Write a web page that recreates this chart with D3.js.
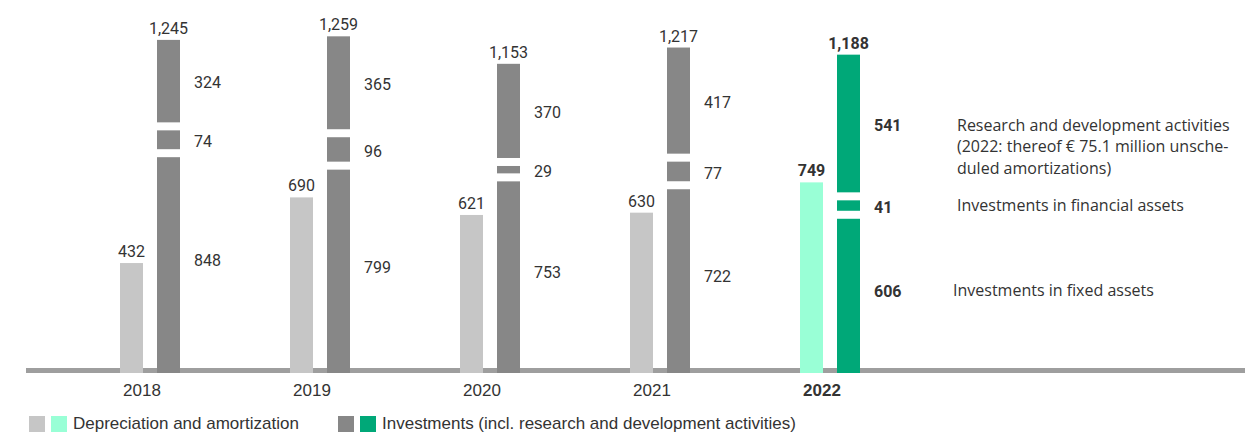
<!DOCTYPE html>
<html>
<head>
<meta charset="utf-8">
<script src="https://cdn.jsdelivr.net/npm/d3@7"></script>
<style>
  html, body { margin: 0; padding: 0; background: #fff; }
  svg { display: block; }
</style>
</head>
<body>
<svg id="chart" width="1258" height="438"></svg>
<script>
// Depreciation vs. investments by year, EUR million
const years = ["2018", "2019", "2020", "2021", "2022"];
const depreciation = [432, 690, 621, 630, 749];
const fixedAssets = [848, 799, 753, 722, 606];
const financialAssets = [74, 96, 29, 77, 41];
const researchDev = [324, 365, 370, 417, 541];
const investmentTotals = ["1,245", "1,259", "1,153", "1,217", "1,188"];
const highlightYear = "2022";
const segmentNotes = [
  ["Research and development activities", "(2022: thereof € 75.1 million unsche-", "duled amortizations)"],
  ["Investments in financial assets"],
  ["Investments in fixed assets"]
];
const legendItems = ["Depreciation and amortization", "Investments (incl. research and development activities)"];

const colors = {
  dep: "#c6c6c6", depHi: "#99ffd6",
  inv: "#878787", invHi: "#00a878",
  axis: "#9e9e9e", text: "#333333"
};

const svg = d3.select("#chart");
const baseY = 373;
const barW = 23;
const invOffset = 37;
const gap = 8;

const x = d3.scaleBand().domain(years).range([120, 120 + 170 * years.length]).paddingInner(0).paddingOuter(0);
const y = d3.scaleLinear().domain([0, 1300]).range([baseY, baseY - 1300 * 0.2545]);
const h = v => baseY - y(v);

const numFont = "Roboto, 'Liberation Sans', sans-serif";
const narrowFont = "'Liberation Sans Narrow', 'Liberation Sans', sans-serif";
const noteFont = "'Open Sans', 'Noto Sans', sans-serif";

// axis band
svg.append("rect").attr("x", 26).attr("y", 368).attr("width", 1219).attr("height", 5).attr("fill", colors.axis);

const rows = years.map((yr, i) => ({
  year: yr, hi: yr === highlightYear,
  dep: depreciation[i],
  segs: [fixedAssets[i], financialAssets[i], researchDev[i]],
  total: investmentTotals[i]
}));

const g = svg.selectAll("g.year").data(rows).join("g").attr("class", "year");

// depreciation bars
g.append("rect")
  .attr("x", d => x(d.year))
  .attr("y", d => y(d.dep))
  .attr("width", barW)
  .attr("height", d => h(d.dep))
  .attr("fill", d => d.hi ? colors.depHi : colors.dep);

g.append("text")
  .attr("x", d => x(d.year) + barW / 2)
  .attr("y", d => y(d.dep) - 6)
  .attr("text-anchor", "middle")
  .attr("font-family", numFont)
  .attr("font-size", 16)
  .attr("font-weight", d => d.hi ? 700 : 400)
  .attr("fill", colors.text)
  .text(d => d3.format(",")(d.dep));

// stacked investment segments separated by white gaps
g.each(function (d) {
  const sel = d3.select(this);
  let bottom = baseY;
  const xi = x(d.year) + invOffset;
  d.segs.forEach((v, k) => {
    const top = bottom - h(v);
    sel.append("rect")
      .attr("x", xi).attr("y", top)
      .attr("width", barW).attr("height", bottom - top)
      .attr("fill", d.hi ? colors.invHi : colors.inv);
    sel.append("text")
      .attr("x", xi + barW + 14)
      .attr("y", (top + bottom) / 2 + (k === 0 ? -3 : 3))
      .attr("dominant-baseline", "middle")
      .attr("font-family", numFont)
      .attr("font-size", 16)
      .attr("font-weight", d.hi ? 700 : 400)
      .attr("fill", colors.text)
      .text(v);
    d["segMid" + k] = (top + bottom) / 2;
    bottom = top - gap;
  });
  const topY = bottom + gap;
  sel.append("text")
    .attr("x", xi + barW / 2)
    .attr("y", topY - 6)
    .attr("text-anchor", "middle")
    .attr("font-family", numFont)
    .attr("font-size", 16)
    .attr("font-weight", d.hi ? 700 : 400)
    .attr("fill", colors.text)
    .text(d.total);
});

// year labels
g.append("text")
  .attr("x", d => x(d.year) + 22)
  .attr("y", 392)
  .attr("dominant-baseline", "middle")
  .attr("text-anchor", "middle")
  .attr("font-family", narrowFont)
  .attr("font-size", 17)
  .attr("font-weight", d => d.hi ? 700 : 400)
  .attr("fill", colors.text)
  .text(d => d.year);

// notes to the right of the highlighted year
const hiRow = rows.find(r => r.hi);
const noteX = [957, 957, 953];
const noteMid = [hiRow.segMid2 + 3, hiRow.segMid1 + 1, hiRow.segMid0 - 4];
[0, 1, 2].forEach(k => {
  const lines = segmentNotes[k];
  const t = svg.append("text")
    .attr("font-family", noteFont)
    .attr("font-size", 16)
    .attr("fill", colors.text);
  lines.forEach((ln, j) => {
    t.append("tspan")
      .attr("x", noteX[k])
      .attr("y", noteMid[k] + j * 21.7)
      .attr("dominant-baseline", "middle")
      .text(ln);
  });
});

// legend
const legend = [
  { sw: [colors.dep, colors.depHi], x: 29, label: legendItems[0] },
  { sw: [colors.inv, colors.invHi], x: 338, label: legendItems[1] }
];
legend.forEach(item => {
  item.sw.forEach((c, j) => {
    svg.append("rect").attr("x", item.x + j * 22).attr("y", 416).attr("width", 16).attr("height", 16).attr("fill", c);
  });
  svg.append("text")
    .attr("x", item.x + 44)
    .attr("y", 425)
    .attr("dominant-baseline", "middle")
    .attr("font-family", narrowFont)
    .attr("font-size", 17)
    .attr("fill", colors.text)
    .text(item.label);
});
</script>
</body>
</html>
